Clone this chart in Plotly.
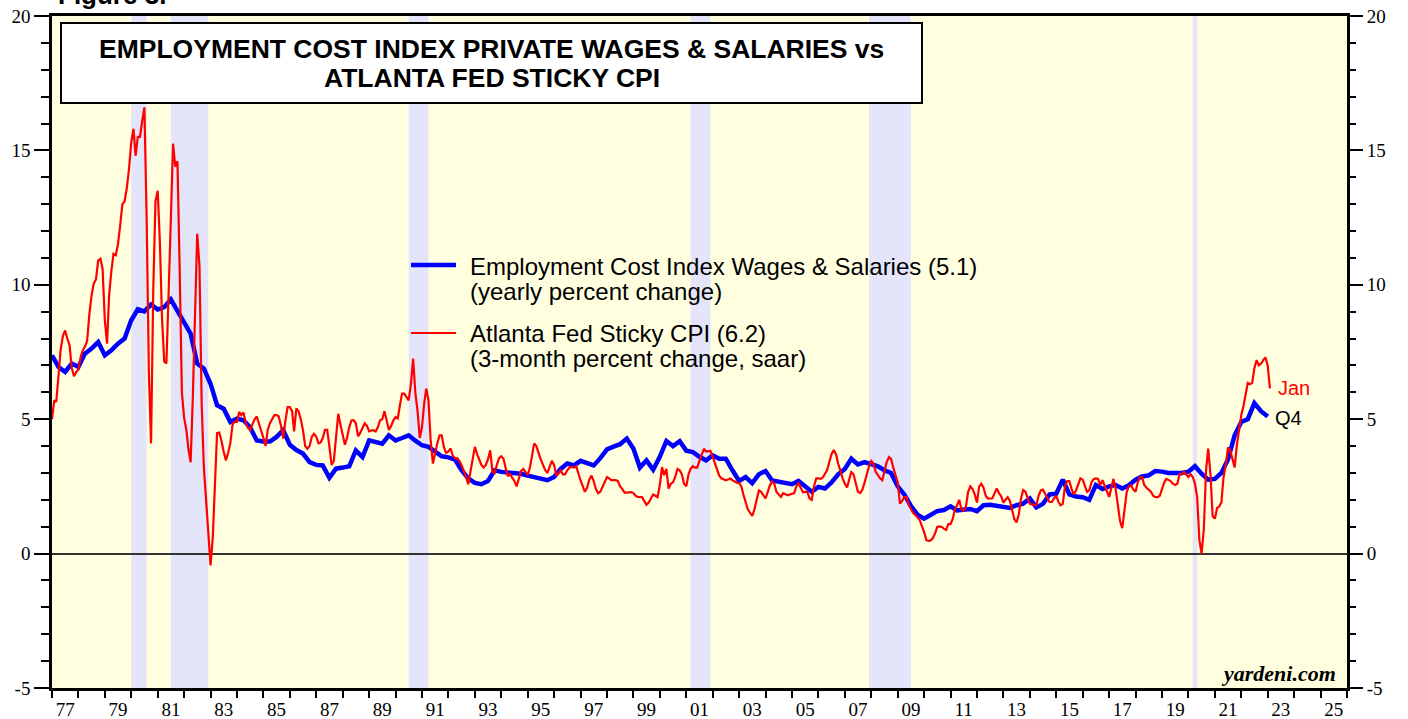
import pandas as pd
import plotly.graph_objects as go

# ---------------- data ----------------
# ECI private wages & salaries, yearly % change, quarterly: Q4 1976 ... Q4 2022
eci_start = "1977-01-01"   # first quarter plotted at its quarter end
eci_wages = [
    7.38,
    6.94, 6.76, 7.07, 6.94,   # 1977
    7.44, 7.63, 7.87, 7.38,   # 1978
    7.56, 7.81, 8.00, 8.68,   # 1979
    9.09, 9.01, 9.27, 9.08,   # 1980
    9.17, 9.46, 9.05, 8.62,   # 1981
    8.18, 7.07, 6.88, 6.32,   # 1982
    5.52, 5.39, 4.90, 5.02,   # 1983
    4.96, 4.70, 4.21, 4.17,   # 1984
    4.17, 4.34, 4.59, 4.05,   # 1985
    3.85, 3.72, 3.40, 3.30,   # 1986
    3.28, 2.82, 3.16, 3.20,   # 1987
    3.25, 3.84, 3.59, 4.21,   # 1988
    4.15, 4.09, 4.40, 4.21,   # 1989
    4.30, 4.40, 4.20, 4.03,   # 1990
    3.97, 3.80, 3.62, 3.58,   # 1991
    3.50, 3.10, 2.80, 2.63,   # 1992
    2.58, 2.70, 3.10, 3.04,   # 1993
    3.02, 3.00, 2.97, 2.90,   # 1994
    2.85, 2.80, 2.73, 2.85,   # 1995
    3.15, 3.35, 3.28, 3.45,   # 1996
    3.38, 3.28, 3.55, 3.88,   # 1997
    3.98, 4.07, 4.28, 3.91,   # 1998
    3.20, 3.47, 3.12, 3.60,   # 1999
    4.19, 4.00, 4.18, 3.83,   # 2000
    3.78, 3.60, 3.47, 3.65,   # 2001
    3.53, 3.53, 3.10, 2.70,   # 2002
    2.85, 2.62, 2.95, 3.07,   # 2003
    2.72, 2.66, 2.60, 2.58,   # 2004
    2.70, 2.52, 2.30, 2.48,   # 2005
    2.42, 2.65, 2.95, 3.15,   # 2006
    3.53, 3.32, 3.40, 3.33,   # 2007
    3.25, 3.10, 3.00, 2.50,   # 2008
    2.20, 1.78, 1.45, 1.30,   # 2009
    1.45, 1.58, 1.62, 1.76,   # 2010
    1.61, 1.65, 1.66, 1.58,   # 2011
    1.80, 1.82, 1.78, 1.76,   # 2012
    1.70, 1.80, 1.86, 2.05,   # 2013
    1.72, 1.85, 2.20, 2.23,   # 2014
    2.75, 2.20, 2.12, 2.10,   # 2015
    2.00, 2.55, 2.40, 2.50,   # 2016
    2.55, 2.42, 2.54, 2.75,   # 2017
    2.87, 2.91, 3.07, 3.05,   # 2018
    3.00, 3.00, 3.00, 3.05,   # 2019
    3.25, 2.97, 2.75, 2.78,   # 2020
    3.00, 3.50, 4.40, 4.90,   # 2021
    5.00, 5.60, 5.30, 5.10,   # 2022
]

# Atlanta Fed sticky CPI, 3-month % change saar, monthly: Dec 1976 ... Jan 2023
sticky_start = "1977-01-01"   # first month plotted at its month end
sticky_cpi = [
    5.0,
    5.7, 5.64, 6.75, 7.6, 8.1, 8.3, 8.0, 7.75, 6.9, 6.6, 6.75, 6.85,           # 1977
    7.3, 7.55, 7.7, 7.9, 8.9, 9.6, 10.05, 10.2, 10.9, 10.97, 10.6, 8.68,      # 1978
    7.81, 9.6, 10.5, 11.15, 11.1, 11.5, 12.2, 13.0, 13.1, 13.6, 14.3, 15.3,   # 1979
    15.8, 14.8, 15.5, 15.5, 16.1, 16.6, 12.5, 6.7, 4.1, 9.9, 13.1, 13.5,      # 1980
    11.5, 8.8, 7.15, 7.07, 9.7, 12.9, 15.25, 14.4, 14.6, 10.5, 6.0, 5.05,     # 1981
    4.6, 3.9, 3.4, 5.8, 9.3, 11.9, 10.7, 5.5, 3.2, 1.9, 0.9, -0.44,           # 1982
    0.6, 2.8, 4.48, 4.5, 4.2, 3.8, 3.47, 3.75, 4.1, 4.8, 4.9, 4.9,            # 1983
    5.27, 5.15, 5.25, 4.85, 4.68, 4.6, 4.84, 5.0, 5.1, 4.85, 4.6, 4.3,        # 1984
    4.0, 4.6, 4.85, 5.0, 5.15, 5.15, 5.1, 4.75, 4.28, 4.95, 5.45, 5.45,       # 1985
    5.3, 4.55, 5.4, 5.3, 5.0, 4.6, 4.0, 3.9, 4.0, 4.35, 4.46, 4.35,           # 1986
    4.1, 4.13, 4.3, 4.6, 4.6, 4.0, 3.3, 3.45, 4.3, 5.2, 4.8, 4.4,             # 1987
    4.05, 4.3, 4.7, 4.95, 4.96, 4.85, 4.36, 4.5, 4.7, 4.85, 4.75, 4.55,       # 1988
    4.58, 4.59, 4.54, 4.7, 4.96, 5.0, 5.3, 4.9, 4.6, 4.75, 4.95, 5.08,        # 1989
    5.03, 5.5, 5.95, 5.95, 5.8, 5.7, 6.3, 7.25, 6.0, 5.3, 4.3, 4.7,           # 1990
    5.6, 6.14, 5.7, 4.2, 3.35, 3.75, 4.1, 4.4, 4.4, 3.95, 3.75, 3.8,          # 1991
    3.91, 3.65, 3.55, 3.55, 3.45, 3.3, 3.1, 2.85, 2.58, 3.1, 3.6, 3.97,       # 1992
    3.7, 3.5, 3.3, 3.2, 3.3, 3.5, 3.84, 3.05, 3.0, 3.3, 3.55, 3.62,           # 1993
    3.53, 3.2, 2.88, 2.96, 2.85, 2.7, 2.5, 2.8, 3.07, 3.15, 3.05, 2.92,       # 1994
    3.2, 3.65, 4.1, 4.0, 3.7, 3.5, 3.3, 3.1, 3.0, 3.2, 3.45, 3.3,             # 1995
    2.9, 2.98, 3.1, 2.95, 2.95, 3.1, 3.2, 3.22, 3.2, 3.25, 2.95, 2.72,        # 1996
    2.5, 2.3, 2.45, 2.75, 2.9, 2.7, 2.4, 2.25, 2.3, 2.48, 2.65, 2.85,         # 1997
    2.8, 2.73, 2.73, 2.73, 2.7, 2.5, 2.4, 2.27, 2.27, 2.29, 2.29, 2.25,       # 1998
    2.15, 2.11, 2.11, 2.1, 1.95, 1.82, 1.9, 2.05, 2.2, 2.15, 2.1, 2.55,       # 1999
    3.22, 2.92, 3.15, 2.42, 2.6, 2.65, 2.85, 3.15, 3.1, 2.95, 2.6, 2.5,       # 2000
    2.95, 3.15, 3.25, 3.2, 3.2, 3.45, 3.65, 3.9, 3.8, 3.8, 3.82, 3.6,         # 2001
    3.35, 3.1, 2.9, 2.8, 2.75, 2.73, 2.76, 2.79, 2.73, 2.67, 2.64, 2.62,      # 2002
    2.5, 2.2, 1.9, 1.65, 1.52, 1.4, 1.65, 2.05, 2.35, 2.3, 2.17, 2.05,        # 2003
    2.3, 2.54, 2.68, 2.6, 2.29, 2.2, 2.11, 2.25, 2.22, 2.17, 2.2, 2.23,       # 2004
    2.25, 2.5, 2.62, 2.45, 2.28, 2.3, 2.3, 2.05, 2.0, 2.5, 2.8, 2.8,          # 2005
    2.78, 2.83, 2.95, 3.1, 3.42, 3.7, 3.85, 3.7, 3.35, 3.05, 2.8, 2.6,        # 2006
    2.46, 2.75, 3.03, 2.95, 2.65, 2.3, 2.25, 2.38, 2.64, 2.95, 3.25, 3.45,    # 2007
    3.35, 3.05, 2.9, 2.8, 2.73, 3.05, 3.4, 3.59, 3.52, 3.2, 2.9, 2.65,        # 2008
    1.86, 1.95, 2.1, 2.1, 1.82, 1.65, 1.52, 1.44, 1.35, 1.25, 1.02, 0.8,      # 2009
    0.5, 0.47, 0.49, 0.58, 0.75, 0.99, 1.01, 0.99, 0.93, 0.88, 1.1, 1.1,      # 2010
    1.3, 1.63, 1.8, 2.0, 1.65, 1.6, 1.75, 2.3, 2.5, 2.4, 2.2, 1.9,            # 2011
    2.5, 2.6, 2.45, 2.15, 2.05, 2.05, 2.06, 2.25, 2.42, 2.25, 2.13, 1.9,      # 2012
    2.0, 2.1, 1.95, 1.6, 1.28, 1.16, 1.45, 2.05, 2.36, 2.3, 2.05, 1.85,       # 2013
    1.83, 1.82, 1.8, 2.15, 2.35, 2.38, 2.2, 2.05, 1.92, 1.92, 2.05, 2.15,     # 2014
    1.92, 1.8, 1.85, 2.5, 2.7, 2.7, 2.4, 2.2, 2.35, 2.55, 2.8, 2.75,          # 2015
    2.48, 2.3, 2.35, 2.65, 2.77, 2.8, 2.78, 2.55, 2.73, 2.5, 2.3, 2.11,       # 2016
    2.45, 2.78, 2.4, 1.75, 1.2, 0.95, 1.7, 2.3, 2.5, 2.54, 2.38, 2.3,         # 2017
    2.65, 2.85, 2.85, 2.55, 2.45, 2.38, 2.3, 2.15, 2.1, 2.1, 2.15, 2.4,       # 2018
    2.65, 2.78, 2.73, 2.7, 2.6, 2.55, 2.6, 2.95, 2.95, 3.05, 2.95, 2.85,      # 2019
    2.95, 2.85, 2.6, 2.1, 0.5, 0.0, 0.9, 3.1, 3.91, 2.95, 1.4, 1.3,           # 2020
    1.7, 1.75, 1.9, 2.85, 3.3, 3.95, 3.85, 3.5, 3.2, 4.05, 4.65, 5.15,        # 2021
    5.5, 5.9, 6.35, 6.3, 6.35, 6.9, 7.2, 7.0, 7.07, 7.2, 7.3, 7.0,            # 2022
    6.15,                                                                      # Jan 2023
]

recession_starts = ["1980-01-01", "1981-07-01", "1990-07-01", "2001-03-01", "2007-12-01", "2020-03-01"]
recession_ends = ["1980-08-01", "1982-12-01", "1991-04-01", "2001-12-01", "2009-07-01", "2020-05-01"]

label_years = list(range(1977, 2026, 2))
x_tick_text = [str(y)[-2:] for y in label_years]
y_tick_vals = [-5, 0, 5, 10, 15, 20]
y_tick_text = ["-5", "0", "5", "10", "15", "20"]

legend_eci = ["Employment Cost Index Wages & Salaries (5.1)", "(yearly percent change)"]
legend_cpi = ["Atlanta Fed Sticky CPI (6.2)", "(3-month percent change, saar)"]
title_lines = ["EMPLOYMENT COST INDEX PRIVATE WAGES & SALARIES vs", "ATLANTA FED STICKY CPI"]

# ---------------- figure ----------------
eci_dates = pd.date_range(eci_start, periods=len(eci_wages), freq="QS")
cpi_dates = pd.date_range(sticky_start, periods=len(sticky_cpi), freq="MS")

BLUE = "#0000FF"
RED = "#FF0000"
SERIF = "Liberation Serif, Times New Roman, serif"
SANS = "Liberation Sans, Arial, sans-serif"

W, H = 1408, 719
ML, MR, MT, MB = 52, 61, 16, 31
PW, PH = W - ML - MR, H - MT - MB


def px(X):
    return (X - ML) / PW


def py(Y):
    return (H - MB - Y) / PH


fig = go.Figure()
fig.add_trace(go.Scatter(x=eci_dates, y=eci_wages, mode="lines",
                         line=dict(color=BLUE, width=4.5), hoverinfo="skip"))
fig.add_trace(go.Scatter(x=cpi_dates, y=sticky_cpi, mode="lines",
                         line=dict(color=RED, width=2.2), hoverinfo="skip"))
fig.add_trace(go.Scatter(x=[], y=[], yaxis="y2", showlegend=False, hoverinfo="skip"))

shapes = []
for s, e in zip(recession_starts, recession_ends):
    shapes.append(dict(type="rect", xref="x", yref="paper", x0=s, x1=e, y0=0, y1=1,
                       fillcolor="#E4E4FA", line=dict(width=0), layer="below"))
# title box
shapes.append(dict(type="rect", xref="paper", yref="paper",
                   x0=px(61), x1=px(922), y0=py(103), y1=py(23),
                   fillcolor="white", line=dict(color="black", width=2), layer="above"))
# legend keys
shapes.append(dict(type="line", xref="paper", yref="paper", x0=px(411), x1=px(456),
                   y0=py(265), y1=py(265), line=dict(color=BLUE, width=4.5)))
shapes.append(dict(type="line", xref="paper", yref="paper", x0=px(411), x1=px(456),
                   y0=py(333), y1=py(333), line=dict(color=RED, width=2.2)))

annotations = []
for text, yc in zip(title_lines, [49, 78]):
    annotations.append(dict(text="<b>" + text + "</b>", xref="paper", yref="paper",
                            x=px(491.5), y=py(yc), xanchor="center", yanchor="middle",
                            showarrow=False, font=dict(family=SANS, size=26.5, color="black")))
for text, yc in zip(legend_eci + legend_cpi, [266, 291, 333, 358]):
    annotations.append(dict(text=text, xref="paper", yref="paper", x=px(468), y=py(yc),
                            xanchor="left", yanchor="middle", showarrow=False,
                            font=dict(family=SANS, size=24, color="black")))
annotations.append(dict(text="Jan", xref="paper", yref="paper", x=px(1276), y=py(388),
                        xanchor="left", yanchor="middle", showarrow=False,
                        font=dict(family=SANS, size=20, color=RED)))
annotations.append(dict(text="Q4", xref="paper", yref="paper", x=px(1273), y=py(418),
                        xanchor="left", yanchor="middle", showarrow=False,
                        font=dict(family=SANS, size=20, color="black")))
annotations.append(dict(text="<b><i>yardeni.com</i></b>", xref="paper", yref="paper",
                        x=px(1338), y=py(673), xanchor="right", yanchor="middle",
                        showarrow=False, font=dict(family=SERIF, size=22, color="black")))
annotations.append(dict(text="<b>Figure 3.</b>", xref="paper", yref="paper",
                        x=px(56), y=py(12), xanchor="left", yanchor="bottom",
                        showarrow=False, font=dict(family=SANS, size=26, color="black")))

yaxis_common = dict(range=[-5, 20], tickmode="array", tickvals=y_tick_vals, ticktext=y_tick_text,
                    ticks="outside", ticklen=15, tickwidth=1.5, tickcolor="black",
                    minor=dict(tickmode="array", tickvals=list(range(-5, 21)), ticks="outside",
                               ticklen=8, tickwidth=1.5, tickcolor="black", showgrid=False),
                    showgrid=False, tickfont=dict(family=SERIF, size=19, color="black"),
                    fixedrange=True, automargin=False)

fig.update_layout(
    width=W, height=H,
    margin=dict(l=ML, r=MR, t=MT, b=MB, autoexpand=False),
    paper_bgcolor="white", plot_bgcolor="#FFFFE0",
    showlegend=False,
    xaxis=dict(type="date", range=["1977-01-01", "2026-01-01"],
               tickmode="array", tickvals=[f"{y}-07-02" for y in label_years],
               ticktext=x_tick_text, ticks="outside", ticklen=2,
               tickcolor="rgba(0,0,0,0)",
               minor=dict(tickmode="array", tickvals=[f"{y}-01-01" for y in range(1977, 2027)],
                          ticks="outside", ticklen=7, tickwidth=2, tickcolor="black",
                          showgrid=False),
               showline=True, linecolor="black", linewidth=2.5, mirror=True,
               showgrid=False, zeroline=False, automargin=False, fixedrange=True,
               tickfont=dict(family=SERIF, size=19, color="black")),
    yaxis=dict(**yaxis_common, side="left", showline=True, linecolor="black", linewidth=2.5,
               mirror=True, zeroline=True, zerolinecolor="#333333", zerolinewidth=2),
    yaxis2=dict(**yaxis_common, side="right", overlaying="y", showline=False, zeroline=False),
    shapes=shapes,
    annotations=annotations,
)

fig.write_html(
    "out.html",
    config={"displayModeBar": False},
    post_script="document.body.style.margin='0';document.body.style.overflow='hidden';",
)
